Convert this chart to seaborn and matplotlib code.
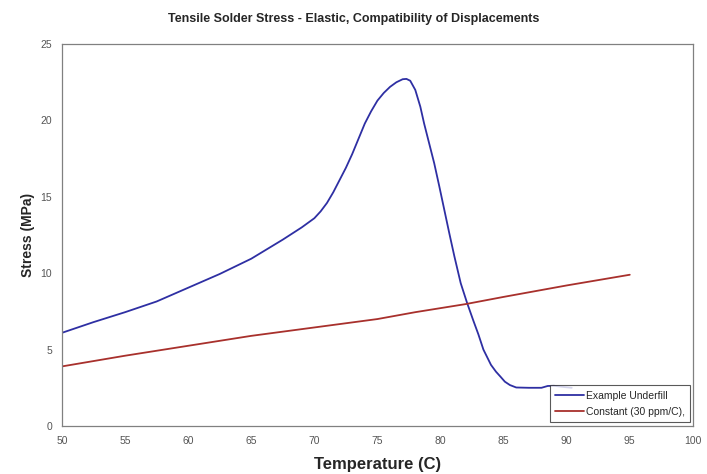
import numpy as np
import pandas as pd
import matplotlib
matplotlib.use("Agg")
import matplotlib.pyplot as plt
import seaborn as sns

# Example Underfill
underfill_temp = [50, 52.5, 55, 57.5, 60, 62.5, 65, 67.5, 69, 70, 70.5, 71, 71.5, 72, 72.5, 73,
                  73.5, 74, 74.5, 75, 75.5, 76, 76.5, 77, 77.3, 77.6, 78, 78.4, 78.7, 79.1, 79.5,
                  79.9, 80.3, 80.7, 81.1, 81.6, 82.1, 82.6, 83, 83.4, 84, 84.4, 84.75, 85.1, 85.5,
                  86, 87, 88, 88.5, 89, 89.8, 90.4]
underfill_stress = [6.1, 6.8, 7.45, 8.15, 9.05, 9.95, 10.95, 12.2, 13.0, 13.6, 14.05, 14.6, 15.3,
                    16.1, 16.9, 17.8, 18.8, 19.8, 20.6, 21.3, 21.8, 22.2, 22.5, 22.7, 22.72, 22.6,
                    22.0, 20.9, 19.8, 18.5, 17.2, 15.7, 14.15, 12.6, 11.1, 9.35, 8.07, 6.9, 6.0,
                    5.0, 4.0, 3.55, 3.23, 2.9, 2.68, 2.52, 2.5, 2.5, 2.62, 2.63, 2.55, 2.5]

# Constant (30 ppm/C)
constant_temp = [50, 55, 60, 65, 70, 75, 78, 82, 85, 90, 95]
constant_stress = [3.9, 4.6, 5.25, 5.9, 6.45, 7.0, 7.45, 7.98, 8.45, 9.2, 9.9]

series_names = ["Example Underfill", "Constant (30 ppm/C),"]
series_colors = ["#2E2FA3", "#A8302C"]

x_ticks = [50, 55, 60, 65, 70, 75, 80, 85, 90, 95, 100]
y_ticks = [0, 5, 10, 15, 20, 25]

df = pd.concat([
    pd.DataFrame({"temp": underfill_temp, "stress": underfill_stress, "serie": series_names[0]}),
    pd.DataFrame({"temp": constant_temp, "stress": constant_stress, "serie": series_names[1]}),
])

sns.set_style("white")
plt.rcParams["font.family"] = ["Liberation Sans", "DejaVu Sans"]

fig = plt.figure(figsize=(7.07, 4.74), dpi=100)
ax = fig.add_axes([0.0877, 0.1013, 0.8923, 0.8057])

sns.lineplot(data=df, x="temp", y="stress", hue="serie", palette=series_colors,
             sort=False, estimator=None, linewidth=1.3, ax=ax)

ax.set_xlim(50, 100)
ax.set_ylim(0, 25)
ax.set_xticks(x_ticks)
ax.set_yticks(y_ticks)

narrow = ["Liberation Sans Narrow", "Liberation Sans", "DejaVu Sans"]
ax.set_xticklabels([str(t) for t in x_ticks], family=narrow, fontsize=7.5, color="#555555")
ax.set_yticklabels([str(t) for t in y_ticks], family=narrow, fontsize=7.5, color="#555555")
ax.tick_params(direction="out", length=4, width=0.8, color="#808080", pad=3)

for s in ax.spines.values():
    s.set_color("#808080")
    s.set_linewidth(0.9)

ax.set_xlabel("Temperature (C)", fontsize=12, fontweight="bold", labelpad=8)
ax.set_ylabel("Stress (MPa)", fontsize=10, fontweight="bold", labelpad=4)
fig.suptitle("Tensile Solder Stress - Elastic, Compatibility of Displacements",
             fontsize=9, fontweight="bold", y=0.972)

leg = ax.legend(loc="lower right", bbox_to_anchor=(0.996, 0.01), frameon=True,
                fancybox=False, handlelength=2.8, handletextpad=0.2, borderpad=0.5,
                labelspacing=0.6, borderaxespad=0, prop={"family": narrow, "size": 7.5})
leg.get_frame().set_edgecolor("#303030")
leg.get_frame().set_linewidth(0.8)

fig.savefig("out.png", dpi=100)
